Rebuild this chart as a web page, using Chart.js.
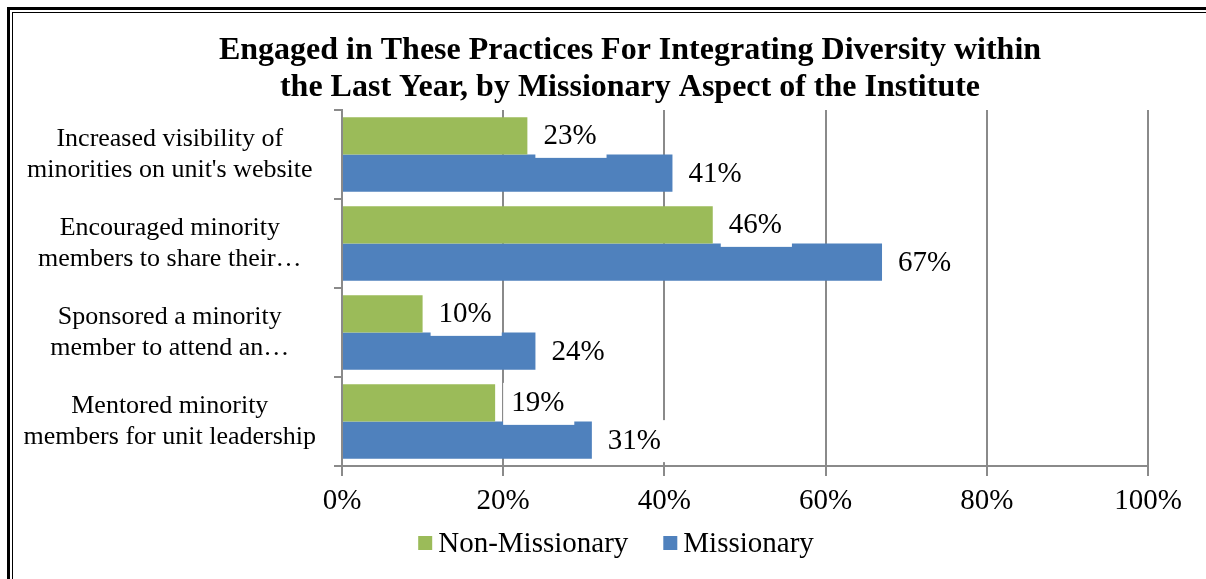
<!DOCTYPE html>
<html><head><meta charset="utf-8">
<script src="https://cdn.jsdelivr.net/npm/chart.js@4.4.1/dist/chart.umd.min.js"></script>
<style>
html,body{margin:0;padding:0;background:#fff;overflow:hidden;width:1206px;height:579px;}
#wrap{position:relative;width:1206px;height:579px;overflow:hidden;}
.b1{position:absolute;left:7px;top:7px;width:1400px;height:800px;border:3px solid #000;box-sizing:border-box;}
.b2{position:absolute;left:12px;top:12px;width:1400px;height:800px;border:1px solid #000;box-sizing:border-box;}
canvas{position:absolute;left:0;top:0;}
</style></head><body>
<div id="wrap"><div class="b1"></div><div class="b2"></div><canvas id="c" width="1206" height="579"></canvas></div>
<script>
const titleLines = ["Engaged in These Practices For Integrating Diversity within", "the Last Year, by Missionary Aspect of the Institute"];
const categories = [
  ["Increased visibility of", "minorities on unit's website"],
  ["Encouraged minority", "members to share their\u2026"],
  ["Sponsored a minority", "member to attend an\u2026"],
  ["Mentored minority", "members for unit leadership"]
];
const seriesNames = ["Non-Missionary", "Missionary"];
const nonMissionary = [23, 46, 10, 19];
const missionary = [41, 67, 24, 31];
const xTickValues = [0, 20, 40, 60, 80, 100];
const seriesColors = ["#9BBB59", "#4F81BD"];

const FAMILY = '"Liberation Serif", "Times New Roman", serif';
const AXIS_GRAY = '#8A8A8A';

const titlePlugin = {
  id: 'customTitle',
  afterDraw(chart) {
    const ctx = chart.ctx;
    ctx.save();
    ctx.font = 'bold 32px ' + FAMILY;
    ctx.fillStyle = '#000';
    ctx.textAlign = 'center';
    ctx.textBaseline = 'middle';
    titleLines.forEach((t, i) => ctx.fillText(t, 630, 51 + i * 37));
    ctx.restore();
  }
};

const legendPlugin = {
  id: 'customLegend',
  afterDraw(chart) {
    const ctx = chart.ctx;
    ctx.save();
    ctx.font = '29px ' + FAMILY;
    const box = 14, gap = 6, itemGap = 35;
    const items = chart.data.datasets.map(d => ({label: d.label, color: d.backgroundColor, w: ctx.measureText(d.label).width}));
    let total = 0;
    items.forEach((it, i) => { total += box + gap + it.w + (i < items.length - 1 ? itemGap : 0); });
    let x = 616 - total / 2;
    const baseY = 552;
    items.forEach(it => {
      ctx.fillStyle = it.color;
      ctx.fillRect(x, 536, box, box);
      x += box + gap;
      ctx.fillStyle = '#000';
      ctx.textAlign = 'left';
      ctx.textBaseline = 'alphabetic';
      ctx.fillText(it.label, x, baseY);
      x += it.w + itemGap;
    });
    ctx.restore();
  }
};

const labelPlugin = {
  id: 'barLabels',
  afterDatasetsDraw(chart) {
    const ctx = chart.ctx;
    ctx.save();
    ctx.font = '29px ' + FAMILY;
    chart.data.datasets.forEach((ds, di) => {
      const meta = chart.getDatasetMeta(di);
      meta.data.forEach((el, i) => {
        const txt = ds.data[i] + '%';
        const w = ctx.measureText(txt).width;
        const x0 = el.x + 8;
        const cy = el.y;
        ctx.fillStyle = '#fff';
        ctx.fillRect(x0, cy - 20, w + 18, 42);
        ctx.fillStyle = '#000';
        ctx.textAlign = 'left';
        ctx.textBaseline = 'middle';
        ctx.fillText(txt, x0 + 8, cy + 1);
      });
    });
    ctx.restore();
  }
};

new Chart(document.getElementById('c'), {
  type: 'bar',
  data: {
    labels: categories,
    datasets: [
      {label: seriesNames[0], data: nonMissionary, backgroundColor: seriesColors[0], barPercentage: 1, categoryPercentage: 0.837},
      {label: seriesNames[1], data: missionary, backgroundColor: seriesColors[1], barPercentage: 1, categoryPercentage: 0.837}
    ]
  },
  options: {
    responsive: false,
    animation: false,
    devicePixelRatio: 1,
    indexAxis: 'y',
    layout: {padding: {left: 0, right: 58, top: 110, bottom: 53}},
    plugins: {legend: {display: false}, title: {display: false}, tooltip: {enabled: false}},
    scales: {
      y: {
        offset: true,
        grid: {drawOnChartArea: false, offset: true, tickLength: 8, color: AXIS_GRAY, lineWidth: 2},
        border: {color: AXIS_GRAY, width: 2},
        ticks: {crossAlign: 'center', padding: 18, color: '#000', font: {family: FAMILY, size: 26, lineHeight: 1.17}},
        afterFit: s => { s.width = 342; }
      },
      x: {
        min: 0, max: 100,
        afterBuildTicks: s => { s.ticks = xTickValues.map(v => ({value: v})); },
        grid: {color: AXIS_GRAY, tickLength: 10, lineWidth: 2},
        border: {color: AXIS_GRAY, width: 2},
        ticks: {padding: 8, color: '#000', font: {family: FAMILY, size: 29}, callback: v => v + '%'},
        afterFit: s => { s.height = 60; }
      }
    }
  },
  plugins: [titlePlugin, legendPlugin, labelPlugin]
});
</script>
</body></html>
